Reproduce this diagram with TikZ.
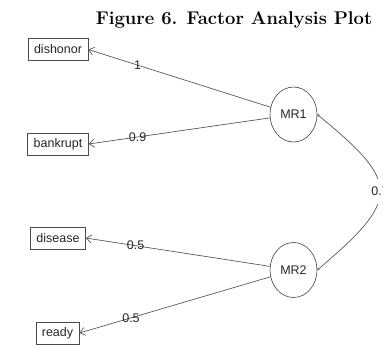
\documentclass[tikz,border=0pt]{standalone}
\usepackage{fontspec}
\newfontfamily\plotfont{Liberation Sans}
\usetikzlibrary{arrows.meta, shapes.geometric}

\begin{document}
\begin{tikzpicture}[%
        x = 1pt, y = -1pt,
        item/.style = {%
            draw = black!70, line width = 0.6pt,
            font = \plotfont\fontsize{12.5}{14}\selectfont, text = black!85,
            inner xsep = 6pt, inner ysep = 0pt, minimum height = 22pt
        },
        factor/.style = {%
            ellipse, draw = black!75, line width = 0.6pt,
            font = \plotfont\fontsize{12.5}{14}\selectfont, text = black!85,
            inner sep = 0pt, minimum width = 47pt, minimum height = 55pt
        },
        load/.style = {%
            draw = black!65, line width = 0.7pt,
            -{Straight Barb[length = 5pt, width = 8pt]}
        },
        weight/.style = {%
            pos = 0.73, inner sep = 0pt,
            font = \plotfont\fontsize{12.5}{14}\selectfont, text = black!85
        },
        corr/.style = {%
            draw = black!65, line width = 0.7pt,
            {Straight Barb[length = 1.5pt, width = 2.5pt]}-{Straight Barb[length = 1.5pt, width = 2.5pt]}
        }
    ]

        % Fix the page to the plot size.
        \useasboundingbox (0, 0) rectangle (383, 346);

        % Title above the plot.
        \node (title) at (234, 24) [anchor = base, font = \bfseries\fontsize{18.4}{20}\selectfont] {Figure 6. Factor Analysis Plot};

        % Boxes for the observed items.
        \node (dishonor) at (58, 49.5) [item] {dishonor};
        \node (bankrupt) at (58, 144) [item] {bankrupt};
        \node (disease) at (58, 238) [item] {disease};
        \node (ready) at (57.5, 333) [item] {ready};

        % Ellipses for the factors.
        \node (mr1) at (293.5, 114.5) [factor] {MR1};
        \node (mr2) at (293.5, 270) [factor] {MR2};

        % Loadings from each factor.
        \draw[load] (mr1) to node[weight] {1} (dishonor.east);
        \draw[load] (mr1) to node[weight] {0.9} (bankrupt.east);
        \draw[load] (mr2) to node[weight] {0.5} (disease.east);
        \draw[load] (mr2) to node[weight] {0.5} (ready.east);

        % Correlation between the factors.
        \draw[corr] (mr1.east) .. controls (401, 183) and (401, 199) ..
            node[fill = white, inner xsep = 1pt, inner ysep = 8pt,
                 font = \plotfont\fontsize{12.5}{14}\selectfont, text = black!85] (r12) {0.7}
            (mr2.east);
    \end{tikzpicture}
\end{document}
